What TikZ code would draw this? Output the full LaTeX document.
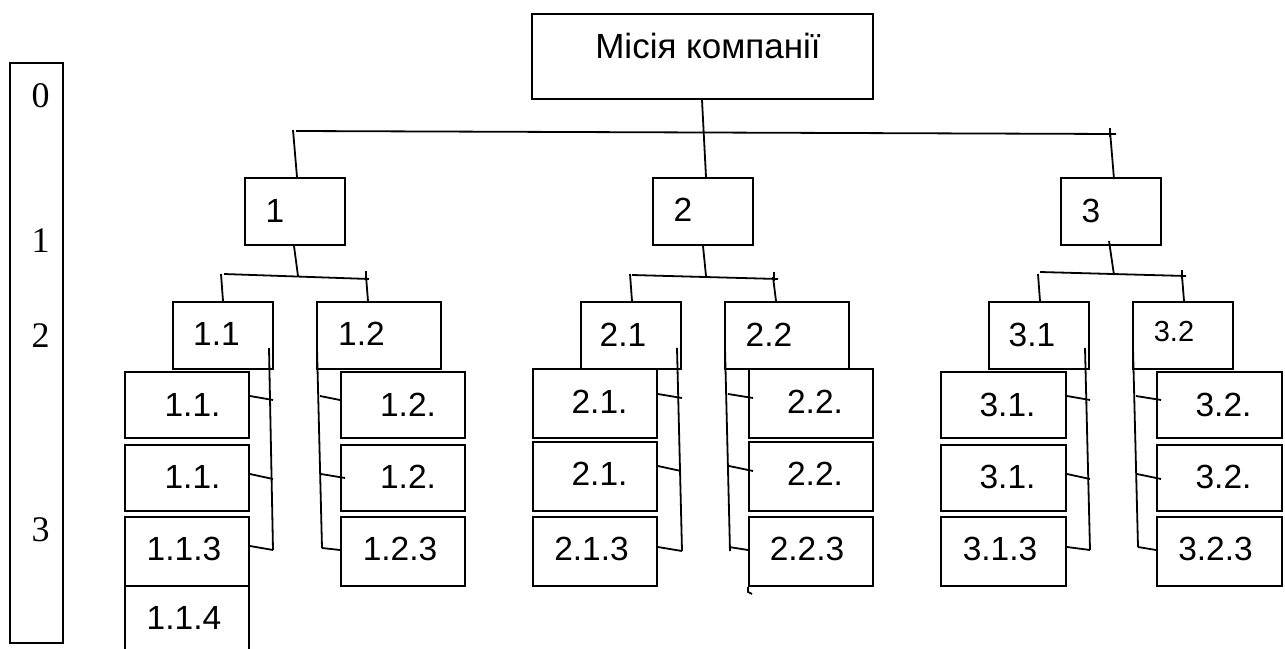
\documentclass[tikz,border=0pt]{standalone}
\usepackage{fontspec}
\setmainfont{Liberation Sans}
\newfontfamily\lvlfont{Liberation Serif}
\newcommand\mkbox[5]{\node[box, minimum width={#4-#2}, minimum height={#5-#3}] (#1) at ({(#2+#4)/2},{(#3+#5)/2}) {};}
\tikzset{
  box/.style={draw, line width=1.9pt, inner sep=0pt, fill=white},
  ln/.style={line width=1.8pt},
  lbl/.style={anchor=base, inner sep=0pt, font=\fontsize{33.5}{40}\selectfont},
  slbl/.style={anchor=base, inner sep=0pt, font=\fontsize{29}{34}\selectfont},
  mlbl/.style={anchor=base, inner sep=0pt, font=\fontsize{35}{42}\selectfont},
  lvl/.style={anchor=base, inner sep=0pt, font=\lvlfont\fontsize{36}{42}\selectfont}
}
\begin{document}
\begin{tikzpicture}[x=1pt,y=-1pt]
\clip (0,0) rectangle (1285,648);
\fill[white] (0,0) rectangle (1285,648);
% level scale
\mkbox{scale}{10}{63}{63}{643}
\node[lvl] (l0) at (40.5,107) {0};
\node[lvl] (l1) at (40.5,252) {1};
\node[lvl] (l2) at (40.5,347) {2};
\node[lvl] (l3) at (40.5,541) {3};
% boxes
\mkbox{mission}{532}{14}{873}{99}
\mkbox{b1}{245}{178}{345}{245}
\mkbox{b2}{653}{178}{753}{245}
\mkbox{b3}{1061}{178}{1161}{245}
\mkbox{b11}{173}{302}{273}{369}
\mkbox{b12}{317}{302}{441}{369}
\mkbox{b21}{581}{302}{681}{369}
\mkbox{b22}{725}{302}{849}{369}
\mkbox{b31}{989}{302}{1089}{369}
\mkbox{b32}{1133}{302}{1233}{369}
\mkbox{b111}{125}{372}{249}{438}
\mkbox{b112}{125}{445}{249}{511}
\mkbox{b113}{125}{517}{249}{586}
\mkbox{b114}{125}{586}{249}{660}
\mkbox{b121}{341}{372}{465}{438}
\mkbox{b122}{341}{445}{465}{511}
\mkbox{b123}{341}{517}{465}{586}
\mkbox{b211}{533}{369}{657}{438}
\mkbox{b212}{533}{442}{657}{511}
\mkbox{b213}{533}{517}{657}{586}
\mkbox{b221}{749}{369}{873}{438}
\mkbox{b222}{749}{442}{873}{511}
\mkbox{b223}{749}{517}{873}{586}
\mkbox{b311}{941}{372}{1066}{438}
\mkbox{b312}{941}{445}{1066}{511}
\mkbox{b313}{941}{517}{1066}{586}
\mkbox{b321}{1157}{372}{1282}{438}
\mkbox{b322}{1157}{445}{1282}{511}
\mkbox{b323}{1157}{517}{1282}{586}
% labels
\node[mlbl] at (708,58) {Місія компанії};
\node[lbl] at (275,222) {1};
\node[lbl] at (683,221) {2};
\node[lbl] at (1091,222) {3};
\node[lbl] at (216.5,345) {1.1};
\node[lbl] at (361.5,345) {1.2};
\node[lbl] at (623,346) {2.1};
\node[lbl] at (769,346) {2.2};
\node[lbl] at (1032,346) {3.1};
\node[slbl] at (1174,341) {3.2};
\node[lbl] at (192.5,416) {1.1.};
\node[lbl] at (192.5,488) {1.1.};
\node[lbl] at (184,560) {1.1.3};
\node[lbl] at (184,629) {1.1.4};
\node[lbl] at (408,416) {1.2.};
\node[lbl] at (408,488) {1.2.};
\node[lbl] at (400,560) {1.2.3};
\node[lbl] at (599.5,413) {2.1.};
\node[lbl] at (599.5,485) {2.1.};
\node[lbl] at (591.5,560) {2.1.3};
\node[lbl] at (815,413) {2.2.};
\node[lbl] at (815,485) {2.2.};
\node[lbl] at (807,560) {2.2.3};
\node[lbl] at (1007.5,416) {3.1.};
\node[lbl] at (1007.5,488) {3.1.};
\node[lbl] at (1000,560) {3.1.3};
\node[lbl] at (1223.5,416) {3.2.};
\node[lbl] at (1223.5,488) {3.2.};
\node[lbl] at (1215.5,560) {3.2.3};
% top bar
\coordinate (barL) at (296,131);
\coordinate (barR) at (1116,134);
\coordinate (t1) at (293,130);
\coordinate (t3) at (1110,131);
\draw[ln] (barL) -- (barR);
\draw[ln] (1110,128) -- (1110,137);
\draw[ln] ([xshift=-0.5pt]mission.south) -- ([xshift=3pt]b2.north);
\draw[ln] (t1) -- ([xshift=2pt]b1.north);
\draw[ln] (t3) -- ([xshift=3pt,yshift=-2pt]b3.north);
% group 1
\coordinate (g1L) at (224,274); \coordinate (g1R) at (369,279);
\draw[ln] (g1L) -- (g1R);
\draw[ln] (366,271) -- (366,280);
\draw[ln] ([xshift=-1pt]b1.south) -- (298,276);
\draw[ln] (221,274) -- (b11.north);
\draw[ln] (366,276) -- ([xshift=-11pt]b12.north);
% group 2
\coordinate (g2L) at (632,275); \coordinate (g2R) at (778,279);
\draw[ln] (g2L) -- (g2R);
\draw[ln] (774,272) -- (774,281);
\draw[ln] (b2.south) -- (706,276);
\draw[ln] (630,274) -- ([xshift=1pt]b21.north);
\draw[ln] (773,277) -- ([xshift=-11pt]b22.north);
% group 3
\coordinate (g3L) at (1040,272); \coordinate (g3R) at (1186,276);
\draw[ln] (g3L) -- (g3R);
\draw[ln] (1182,270) -- (1182,279);
\draw[ln] ([xshift=-2pt,yshift=5pt]b3.south) -- (1114,275);
\draw[ln] (1038,274) -- ([xshift=1pt]b31.north);
\draw[ln] (1182,276) -- ([xshift=1pt]b32.north);
% brackets 1.1
\coordinate (k11a) at (269,348); \coordinate (k11b) at (273,550);
\draw[ln] (k11a) -- (k11b);
\draw[ln] ([yshift=9pt]b111.east) -- (273,400);
\draw[ln] ([yshift=4pt]b112.east) -- (273,479);
\draw[ln] ([yshift=5.5pt]b113.east) -- (k11b);
% brackets 1.2
\coordinate (k12a) at (317,348); \coordinate (k12b) at (322,548);
\draw[ln] (k12a) -- (k12b);
\draw[ln] (320,396) -- ([yshift=5pt]b121.west);
\draw[ln] (321,474) -- ([xshift=5pt]b122.west);
\draw[ln] (k12b) -- ([yshift=1.5pt]b123.west);
% brackets 2.1
\coordinate (k21a) at (677,348); \coordinate (k21b) at (682,551);
\draw[ln] (k21a) -- (k21b);
\draw[ln] ([yshift=9.5pt]b211.east) -- (682,398);
\draw[ln] ([yshift=10.5pt]b212.east) -- (681,471);
\draw[ln] ([yshift=4.5pt]b213.east) -- (k21b);
% brackets 2.2
\coordinate (k22a) at (725,348); \coordinate (k22b) at (730,551);
\draw[ln] (k22a) -- (k22b);
\draw[ln] (728,394) -- ([xshift=5pt,yshift=5.5pt]b221.west);
\draw[ln] (729,466) -- ([xshift=5pt,yshift=5.5pt]b222.west);
\draw[ln] (729,547) -- ([yshift=1.5pt]b223.west);
\draw[ln] (b223.south west) -- ++(0,5) -- ++(4,2);
% brackets 3.1
\coordinate (k31a) at (1085,348); \coordinate (k31b) at (1090,550);
\draw[ln] (k31a) -- (k31b);
\draw[ln] ([yshift=9pt]b311.east) -- (1090,400);
\draw[ln] ([yshift=4pt]b312.east) -- (1090,479);
\draw[ln] ([yshift=4.5pt]b313.east) -- (k31b);
% brackets 3.2
\coordinate (k32a) at (1133,348); \coordinate (k32b) at (1138,547);
\draw[ln] (k32a) -- (k32b);
\draw[ln] (1136,396) -- ([xshift=5pt,yshift=5pt]b321.west);
\draw[ln] (1137,474) -- ([xshift=5pt,yshift=-1pt]b322.west);
\draw[ln] (k32b) -- ([yshift=1.5pt]b323.west);
\end{tikzpicture}
\end{document}
